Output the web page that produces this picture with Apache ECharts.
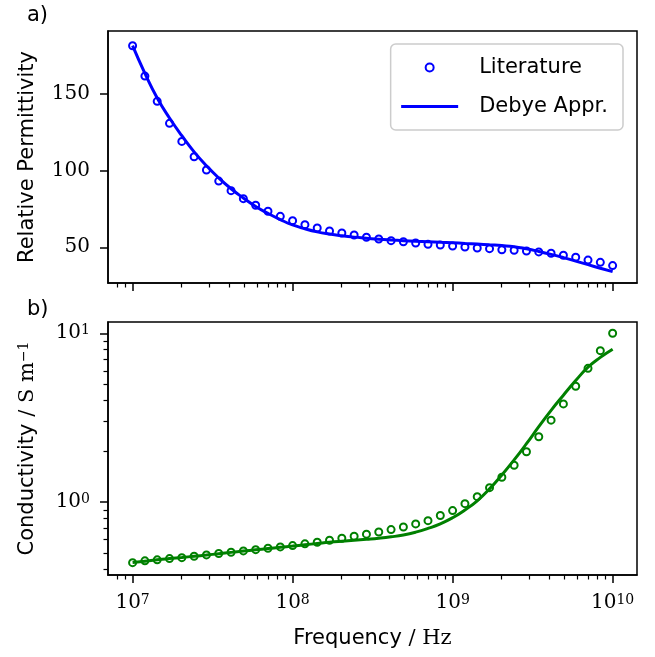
<!DOCTYPE html>
<html>
<head>
<meta charset="utf-8">
<title>Relative permittivity and conductivity</title>
<script src="https://cdn.jsdelivr.net/npm/echarts@6.0.0/dist/echarts.min.js"></script>
<style>
  html, body { margin: 0; padding: 0; background: #fff; }
  #chart { width: 655px; height: 657px; }
</style>
</head>
<body>
<div id="chart"></div>
<script>
// frequency points (Hz), 40 points log spaced from 1e7 to 1e10
const freq = [
  1.000e7, 1.194e7, 1.425e7, 1.701e7, 2.031e7, 2.424e7, 2.894e7, 3.455e7, 4.125e7, 4.924e7,
  5.878e7, 7.017e7, 8.377e7, 1.000e8, 1.194e8, 1.425e8, 1.701e8, 2.031e8, 2.424e8, 2.894e8,
  3.455e8, 4.125e8, 4.924e8, 5.878e8, 7.017e8, 8.377e8, 1.000e9, 1.194e9, 1.425e9, 1.701e9,
  2.031e9, 2.424e9, 2.894e9, 3.455e9, 4.125e9, 4.924e9, 5.878e9, 7.017e9, 8.377e9, 1.000e10
];
// a) relative permittivity
const permLit = [
  180.9, 161.2, 144.8, 130.5, 118.8, 108.8, 100.2, 93.0, 86.8, 81.6,
  77.3, 73.4, 70.1, 67.3, 64.7, 62.5, 60.6, 59.3, 58.0, 56.5,
  55.4, 54.3, 53.6, 52.8, 51.9, 51.5, 50.8, 50.2, 49.5, 49.1,
  48.4, 48.1, 47.6, 47.0, 46.1, 44.8, 43.5, 41.7, 40.2, 38.1
];
const permFit = [
  181.0, 163.0, 147.0, 134.0, 122.5, 112.0, 103.0, 95.0, 88.0, 82.0,
  76.5, 72.0, 68.0, 64.5, 62.0, 60.0, 58.6, 57.5, 56.6, 55.9,
  55.2, 54.7, 54.3, 53.9, 53.6, 53.2, 52.9, 52.5, 52.1, 51.6,
  51.1, 50.4, 49.0, 47.3, 45.4, 43.3, 41.0, 38.7, 36.4, 34.2
];
// b) conductivity (S/m)
const condLit = [
  0.439, 0.450, 0.456, 0.464, 0.470, 0.479, 0.488, 0.497, 0.506, 0.515,
  0.524, 0.534, 0.544, 0.554, 0.567, 0.580, 0.596, 0.612, 0.629, 0.647,
  0.667, 0.689, 0.714, 0.744, 0.778, 0.835, 0.892, 0.981, 1.079, 1.22,
  1.406, 1.655, 1.99, 2.44, 3.06, 3.82, 4.86, 6.20, 7.89, 10.0
];
const condFit = [
  0.440, 0.448, 0.456, 0.464, 0.471, 0.479, 0.487, 0.496, 0.505, 0.514,
  0.523, 0.532, 0.541, 0.550, 0.560, 0.570, 0.580, 0.588, 0.595, 0.603,
  0.612, 0.624, 0.640, 0.665, 0.700, 0.745, 0.810, 0.900, 1.02, 1.20,
  1.45, 1.78, 2.22, 2.80, 3.50, 4.30, 5.25, 6.30, 7.20, 8.05
];

// tick positions
const xMajor = [1e7, 1e8, 1e9, 1e10];
const xMinor = [8e6, 9e6,
  2e7, 3e7, 4e7, 5e7, 6e7, 7e7, 8e7, 9e7,
  2e8, 3e8, 4e8, 5e8, 6e8, 7e8, 8e8, 9e8,
  2e9, 3e9, 4e9, 5e9, 6e9, 7e9, 8e9, 9e9];
const permTicks = [50, 100, 150];
const condMajor = [1, 10];
const condMinor = [0.4, 0.5, 0.6, 0.7, 0.8, 0.9, 2, 3, 4, 5, 6, 7, 8, 9];

const SERIF = 'DejaVu Serif';
const SANS = 'DejaVu Sans';
const BLUE = '#0000ff';
const GREEN = '#008000';

const rich = {
  b: { fontFamily: SERIF, fontSize: 20, color: '#000' },
  s: { fontFamily: SERIF, fontSize: 14, color: '#000', verticalAlign: 'top' },
  t: { fontFamily: SANS, fontSize: 21, color: '#000' },
  r: { fontFamily: SERIF, fontSize: 21, color: '#000' }
};

function pow10(v) {
  return '{b|10}{s|' + Math.round(Math.log10(v)) + '}';
}

const xMin = 7.02e6, xMax = 1.42e10;
const line = { color: '#000', width: 1.5 };

function xPair(grid, h, labels) {
  const major = {
    type: 'log', gridIndex: grid, min: xMin, max: xMax,
    axisLine: { show: true, lineStyle: line },
    axisTick: { show: true, customValues: xMajor, length: 8, lineStyle: line },
    axisLabel: { show: false },
    splitLine: { show: false }
  };
  if (labels) {
    major.axisLabel = { show: true, customValues: xMajor, formatter: pow10, margin: 18, rich: rich };
    major.name = '{t|Frequency }{r|/ Hz}';
    major.nameLocation = 'middle';
    major.nameGap = 53;
    major.nameTextStyle = { rich: rich };
  }
  // minor ticks: second axis flipped to the top, pulled back down onto the bottom spine
  const minor = {
    type: 'log', gridIndex: grid, min: xMin, max: xMax, position: 'top', offset: -h,
    axisLine: { show: false },
    axisTick: { show: true, inside: true, customValues: xMinor, length: 4.5, lineStyle: { color: '#000', width: 1.2 } },
    axisLabel: { show: false },
    splitLine: { show: false }
  };
  return [major, minor];
}

const chart = echarts.init(document.getElementById('chart'));
chart.setOption({
  animation: false,
  backgroundColor: '#fff',
  title: [
    { text: 'a)', left: 27, top: 5, padding: 0, textStyle: { fontFamily: SANS, fontSize: 21, fontWeight: 'normal', color: '#000' } },
    { text: 'b)', left: 27, top: 299, padding: 0, textStyle: { fontFamily: SANS, fontSize: 21, fontWeight: 'normal', color: '#000' } }
  ],
  legend: {
    data: ['Literature', { name: 'Debye Appr.', itemStyle: { opacity: 0 } }],
    orient: 'vertical',
    right: 32, top: 44,
    padding: [13, 15, 13, 9],
    itemGap: 18,
    itemWidth: 57, itemHeight: 8,
    backgroundColor: 'rgba(255,255,255,0.8)',
    borderColor: '#cccccc', borderWidth: 1.5, borderRadius: 5,
    lineStyle: { width: 3 },
    textStyle: { fontFamily: SANS, fontSize: 21, color: '#000', padding: [0, 0, 0, 16] }
  },
  grid: [
    { left: 108, top: 31, width: 529, height: 252, show: true, borderColor: '#000', borderWidth: 1.5, backgroundColor: 'transparent' },
    { left: 108, top: 322, width: 529, height: 253, show: true, borderColor: '#000', borderWidth: 1.5, backgroundColor: 'transparent' }
  ],
  xAxis: xPair(0, 252, false).concat(xPair(1, 253, true)),
  yAxis: [
    {
      type: 'value', gridIndex: 0, min: 26.8, max: 190.5,
      axisLine: { show: true, lineStyle: line },
      axisTick: { show: true, customValues: permTicks, length: 8, lineStyle: line },
      axisLabel: { customValues: permTicks, margin: 18, fontFamily: SERIF, fontSize: 20, color: '#000' },
      splitLine: { show: false },
      name: 'Relative Permittivity', nameLocation: 'middle', nameGap: 70,
      nameTextStyle: { fontFamily: SANS, fontSize: 21, color: '#000' }
    },
    {
      type: 'log', gridIndex: 1, min: 0.371, max: 11.66,
      axisLine: { show: true, lineStyle: line },
      axisTick: { show: true, customValues: condMajor, length: 8, lineStyle: line },
      axisLabel: { customValues: condMajor, formatter: pow10, margin: 18, rich: rich },
      splitLine: { show: false },
      name: '{t|Conductivity }{r|/ S m}{s|\u22121}', nameLocation: 'middle', nameGap: 70,
      nameTextStyle: { rich: rich }
    },
    {
      type: 'log', gridIndex: 1, min: 0.371, max: 11.66, position: 'right', offset: -529,
      axisLine: { show: false },
      axisTick: { show: true, inside: true, customValues: condMinor, length: 4.5, lineStyle: { color: '#000', width: 1.2 } },
      axisLabel: { show: false },
      splitLine: { show: false }
    }
  ],
  series: [
    {
      name: 'Literature', type: 'scatter', xAxisIndex: 0, yAxisIndex: 0,
      symbol: 'circle', symbolSize: 7,
      itemStyle: { color: 'rgba(0,0,0,0)', borderColor: BLUE, borderWidth: 2, opacity: 1 },
      data: freq.map((f, i) => [f, permLit[i]])
    },
    {
      name: 'Debye Appr.', type: 'line', xAxisIndex: 0, yAxisIndex: 0,
      symbol: 'none', smooth: true,
      lineStyle: { color: BLUE, width: 3 }, itemStyle: { color: BLUE },
      data: freq.map((f, i) => [f, permFit[i]])
    },
    {
      name: 'Literature (conductivity)', type: 'scatter', xAxisIndex: 2, yAxisIndex: 1,
      symbol: 'circle', symbolSize: 7,
      itemStyle: { color: 'rgba(0,0,0,0)', borderColor: GREEN, borderWidth: 2, opacity: 1 },
      data: freq.map((f, i) => [f, condLit[i]])
    },
    {
      name: 'Debye Appr. (conductivity)', type: 'line', xAxisIndex: 2, yAxisIndex: 1,
      symbol: 'none', smooth: true,
      lineStyle: { color: GREEN, width: 3 }, itemStyle: { color: GREEN },
      data: freq.map((f, i) => [f, condFit[i]])
    }
  ]
});
</script>
</body>
</html>
